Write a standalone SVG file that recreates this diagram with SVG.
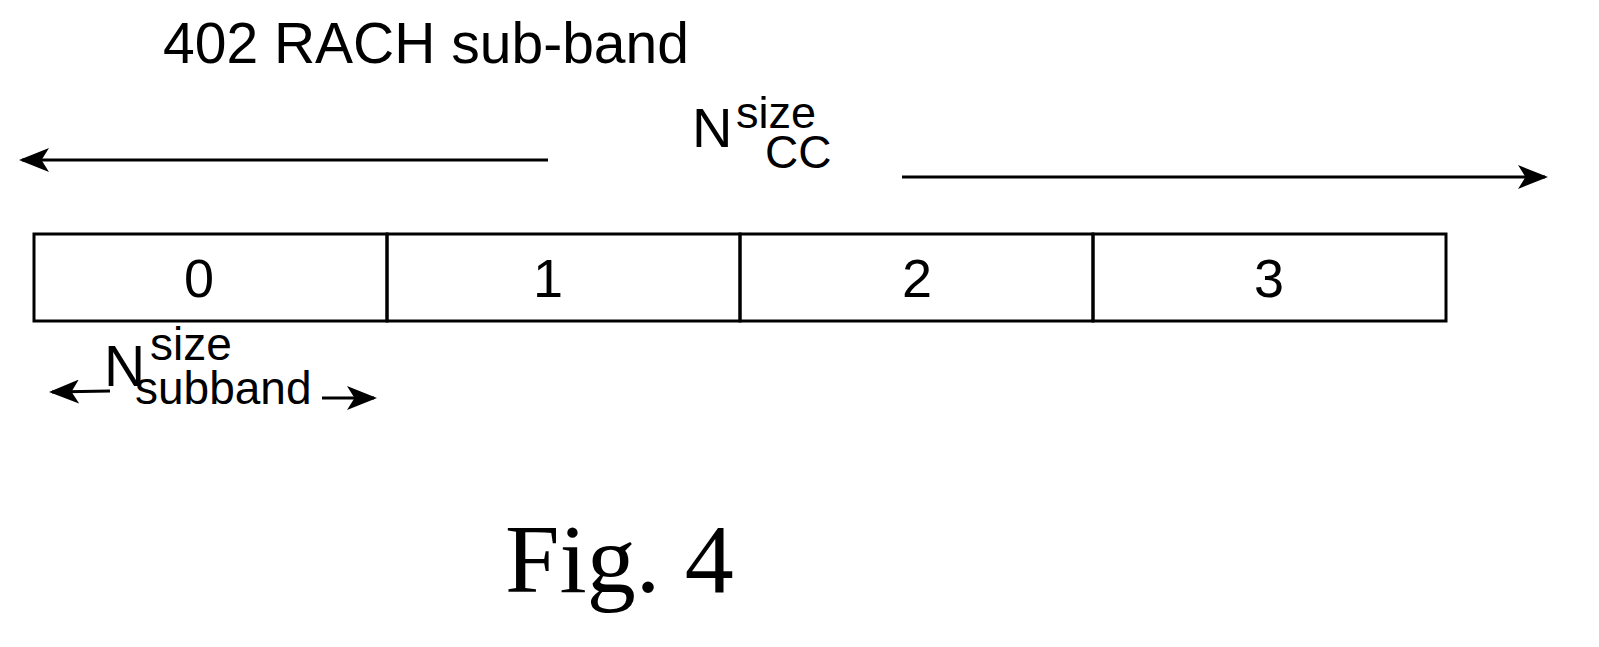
<svg xmlns="http://www.w3.org/2000/svg" width="1599" height="647" viewBox="0 0 1599 647">
<style>
text{font-family:"Liberation Sans",Arial,sans-serif;fill:#000}
.ln{stroke:#000;stroke-width:3;fill:none}
.c{text-anchor:middle;font-size:54px}
</style>
<defs><marker id="ah" markerWidth="10" markerHeight="8" refX="9" refY="4" orient="auto" markerUnits="strokeWidth"><path d="M0,0 L10,4 L0,8 L2.5,4 Z" fill="#000"/></marker></defs>
<rect width="1599" height="647" fill="#fff"/>
<text x="163" y="63" font-size="57">402 RACH sub-band</text>
<text x="692" y="147" font-size="56">N</text><text x="736" y="128" font-size="45">size</text><text x="765" y="168" font-size="46">CC</text>
<g id="connectors">
<line class="ln" x1="548" y1="160" x2="22" y2="160" marker-end="url(#ah)"/>
<line class="ln" x1="902" y1="177" x2="1545" y2="177" marker-end="url(#ah)"/>
<line class="ln" x1="110" y1="391" x2="52" y2="392" marker-end="url(#ah)"/>
<line class="ln" x1="322" y1="398" x2="374" y2="398" marker-end="url(#ah)"/>
</g>
<g id="b0"><rect class="ln" x="34" y="234" width="353" height="87"/><text class="c" x="199" y="297">0</text></g>
<g id="b1"><rect class="ln" x="387" y="234" width="353" height="87"/><text class="c" x="548" y="297">1</text></g>
<g id="b2"><rect class="ln" x="740" y="234" width="353" height="87"/><text class="c" x="917" y="297">2</text></g>
<g id="b3"><rect class="ln" x="1093" y="234" width="353" height="87"/><text class="c" x="1269" y="297">3</text></g>
<text x="104" y="386" font-size="57">N</text><text x="150" y="360" font-size="46">size</text><text x="135" y="404" font-size="46">subband</text>
<text x="505" y="592" font-size="98" style="font-family:'Liberation Serif',serif">Fig. 4</text>
</svg>
